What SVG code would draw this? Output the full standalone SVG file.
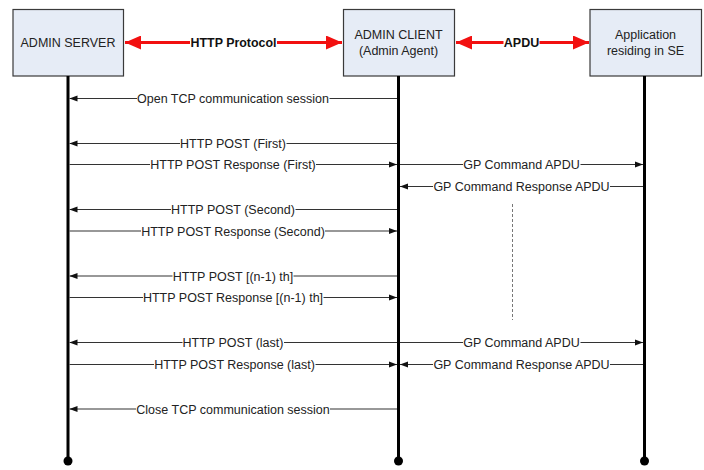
<svg xmlns="http://www.w3.org/2000/svg" width="704" height="470" viewBox="0 0 704 470">
<style>
.box{fill:#E6ECF6;stroke:#3a3a3a;stroke-width:1.2}
.bt{font-family:"Liberation Sans",Arial,sans-serif;font-size:12.5px;fill:#222;text-anchor:middle}
.life{stroke:#000;stroke-width:3}
.msg{stroke:#333;stroke-width:1.1;fill:none}
.lbl{font-family:"Liberation Sans",Arial,sans-serif;font-size:12.5px;fill:#222;text-anchor:middle}
.bold{font-family:"Liberation Sans",Arial,sans-serif;font-size:12.5px;font-weight:bold;fill:#111;text-anchor:middle}
.red{stroke:#F21010;stroke-width:3;fill:none}
.bg{fill:#fff}
.dash{stroke:#777;stroke-width:1;stroke-dasharray:3,2}
</style>
<defs>
<marker id="ah" markerUnits="userSpaceOnUse" markerWidth="8" markerHeight="8" viewBox="0 0 8 8" refX="8" refY="4" orient="auto">
<path d="M0,1 L8,4 L0,7 z" fill="#111"/>
</marker>
<marker id="rh" markerUnits="userSpaceOnUse" markerWidth="16" markerHeight="14" viewBox="0 0 16 14" refX="16" refY="7" orient="auto-start-reverse">
<path d="M0,0 L16,7 L0,14 z" fill="#F21010"/>
</marker>
</defs>

<g id="admin-server">
<rect class="box" x="13" y="9.5" width="110.5" height="66.5"/>
<text class="bt" x="68" y="47">ADMIN SERVER</text>
<line class="life" x1="68" y1="76" x2="68" y2="461"/>
<circle cx="68" cy="461" r="4.5" fill="#000"/>
</g>
<g id="admin-client">
<rect class="box" x="343.5" y="9.5" width="111" height="66.5"/>
<text class="bt" x="398.5" y="39">ADMIN CLIENT</text>
<text class="bt" x="398.5" y="55">(Admin Agent)</text>
<line class="life" x1="398.5" y1="76" x2="398.5" y2="461"/>
<circle cx="398.5" cy="461" r="4.5" fill="#000"/>
</g>
<g id="application">
<rect class="box" x="590" y="9.5" width="111.5" height="66.5"/>
<text class="bt" x="645.5" y="39">Application</text>
<text class="bt" x="645.5" y="55">residing in SE</text>
<line class="life" x1="644.5" y1="76" x2="644.5" y2="461"/>
<circle cx="644.5" cy="461" r="4.5" fill="#000"/>
</g>

<g id="connectors">
<line class="red" x1="125" y1="42.5" x2="342" y2="42.5" marker-start="url(#rh)" marker-end="url(#rh)"/>
<rect class="bg" x="190" y="36" width="87" height="13"/>
<text class="bold" x="233.5" y="47" textLength="86" lengthAdjust="spacingAndGlyphs">HTTP Protocol</text>
<line class="red" x1="456" y1="42.5" x2="589" y2="42.5" marker-start="url(#rh)" marker-end="url(#rh)"/>
<rect class="bg" x="503.5" y="36" width="36" height="13"/>
<text class="bold" x="521.5" y="47">APDU</text>

<line class="msg" x1="397" y1="98.5" x2="69.5" y2="98.5" marker-end="url(#ah)"/>
<rect class="bg" x="137" y="92" width="192.5" height="13"/>
<text class="lbl" x="233" y="103">Open TCP communication session</text>

<line class="msg" x1="397" y1="143.5" x2="69.5" y2="143.5" marker-end="url(#ah)"/>
<rect class="bg" x="180" y="137" width="106.5" height="13"/>
<text class="lbl" x="233" y="148">HTTP POST (First)</text>

<line class="msg" x1="69.5" y1="164.5" x2="397" y2="164.5" marker-end="url(#ah)"/>
<rect class="bg" x="150" y="158" width="166" height="13"/>
<text class="lbl" x="233" y="169">HTTP POST Response (First)</text>

<line class="msg" x1="400" y1="164.5" x2="643" y2="164.5" marker-end="url(#ah)"/>
<rect class="bg" x="463" y="158" width="117.5" height="13"/>
<text class="lbl" x="521.5" y="169">GP Command APDU</text>

<line class="msg" x1="643" y1="186.5" x2="400" y2="186.5" marker-end="url(#ah)"/>
<rect class="bg" x="433" y="180" width="177" height="13"/>
<text class="lbl" x="521.5" y="191">GP Command Response APDU</text>

<line class="msg" x1="397" y1="209.5" x2="69.5" y2="209.5" marker-end="url(#ah)"/>
<rect class="bg" x="171" y="203" width="124.5" height="13"/>
<text class="lbl" x="233" y="214">HTTP POST (Second)</text>

<line class="msg" x1="69.5" y1="231" x2="397" y2="231" marker-end="url(#ah)"/>
<rect class="bg" x="141" y="224.5" width="184" height="13"/>
<text class="lbl" x="233" y="235.5">HTTP POST Response (Second)</text>

<line class="dash" x1="512.5" y1="204" x2="512.5" y2="320"/>

<line class="msg" x1="397" y1="276" x2="69.5" y2="276" marker-end="url(#ah)"/>
<rect class="bg" x="172.5" y="269.5" width="121" height="13"/>
<text class="lbl" x="233" y="280.5">HTTP POST [(n-1) th]</text>

<line class="msg" x1="69.5" y1="297.5" x2="397" y2="297.5" marker-end="url(#ah)"/>
<rect class="bg" x="143" y="291" width="180.5" height="13"/>
<text class="lbl" x="233" y="302">HTTP POST Response [(n-1) th]</text>

<line class="msg" x1="397" y1="342.5" x2="69.5" y2="342.5" marker-end="url(#ah)"/>
<rect class="bg" x="182.5" y="336" width="101.5" height="13"/>
<text class="lbl" x="233" y="347">HTTP POST (last)</text>

<line class="msg" x1="400" y1="342.5" x2="643" y2="342.5" marker-end="url(#ah)"/>
<rect class="bg" x="463" y="336" width="117.5" height="13"/>
<text class="lbl" x="521.5" y="347">GP Command APDU</text>

<line class="msg" x1="69.5" y1="364.5" x2="397" y2="364.5" marker-end="url(#ah)"/>
<rect class="bg" x="154" y="358" width="161.5" height="13"/>
<text class="lbl" x="234.5" y="369">HTTP POST Response (last)</text>

<line class="msg" x1="643" y1="364.5" x2="400" y2="364.5" marker-end="url(#ah)"/>
<rect class="bg" x="433" y="358" width="177" height="13"/>
<text class="lbl" x="521.5" y="369">GP Command Response APDU</text>

<line class="msg" x1="397" y1="409" x2="69.5" y2="409" marker-end="url(#ah)"/>
<rect class="bg" x="136" y="402.5" width="194" height="13"/>
<text class="lbl" x="233" y="413.5">Close TCP communication session</text>
</g>
</svg>
